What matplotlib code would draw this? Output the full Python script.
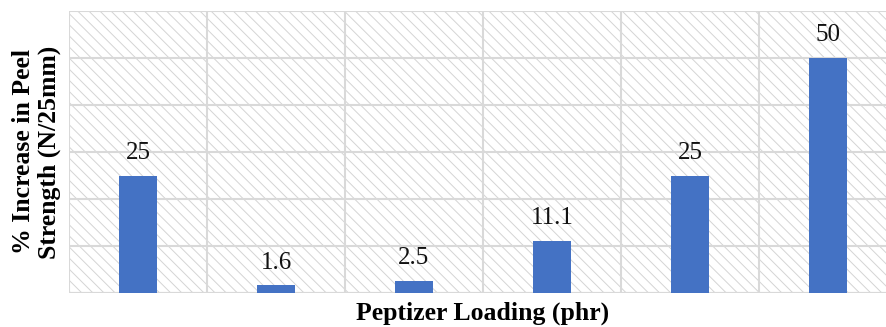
import numpy as np
import matplotlib.pyplot as plt
from matplotlib.patches import Rectangle
from matplotlib.ticker import MultipleLocator

# Data
categories = ['S1', 'S2', 'S3', 'S4', 'S5', 'S6']   # tick labels are not shown
increase = [25, 1.6, 2.5, 11.1, 25, 50]
value_labels = ['25', '1.6', '2.5', '11.1', '25', '50']

plt.rcParams['font.family'] = ['Liberation Serif', 'DejaVu Serif']
plt.rcParams['hatch.linewidth'] = 0.7

fig = plt.figure(figsize=(8.86, 3.27), dpi=100)
ax = fig.add_axes([69/886, 34/327, 828/886, 282/327])

x = np.arange(len(categories))

# hatched background
bg = Rectangle((0, 0), 1, 1, transform=ax.transAxes, facecolor='white',
               edgecolor='#d4d4d4', linewidth=0, hatch='\\\\\\', zorder=0)
ax.add_patch(bg)

ax.bar(x, increase, width=0.27, color='#4472c4', zorder=3)

for xi, v, lab in zip(x, increase, value_labels):
    ax.text(xi, v + 2.5, lab, ha='center', va='bottom', fontsize=18, color='#111111')

ax.set_xlim(-0.5, len(categories) - 0.5)
ax.set_ylim(0, 60)
ax.yaxis.set_major_locator(MultipleLocator(10))
ax.set_xticks(x - 0.5, minor=False)
ax.tick_params(length=0, labelbottom=False, labelleft=False)
ax.grid(True, color='#d9d9d9', linewidth=1.5, zorder=1)
ax.set_axisbelow(True)
for s in ax.spines.values():
    s.set_visible(False)
ax.axhline(0, color='#d9d9d9', linewidth=1.5, zorder=2)

ax.set_xlabel('Peptizer Loading (phr)', fontsize=18.5, fontweight='bold', labelpad=6.5)
ax.set_ylabel('% Increase in Peel\nStrength (N/25mm)', fontsize=18.5, fontweight='bold',
              labelpad=6, linespacing=1.1)

fig.savefig('out.png', dpi=100)
